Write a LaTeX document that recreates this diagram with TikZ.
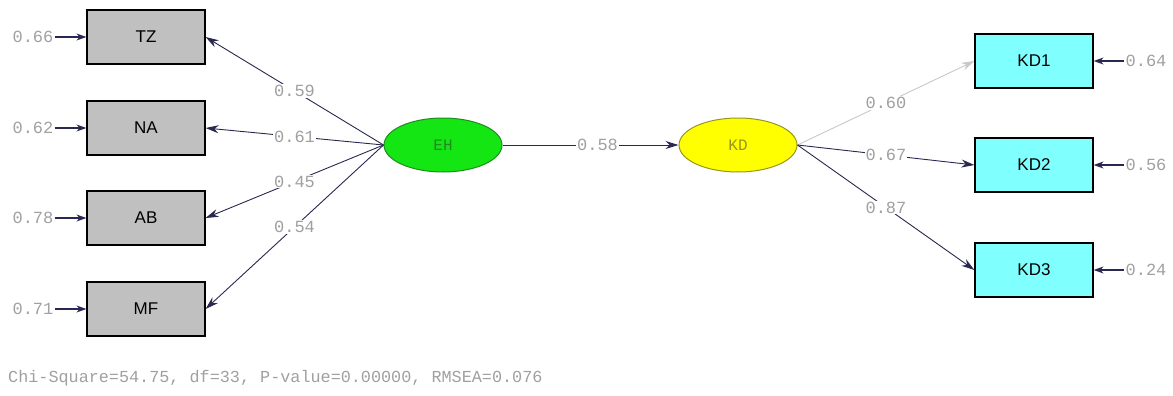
\documentclass[tikz,border=0pt]{standalone}
\usepackage{fontspec}
\setmainfont{Liberation Sans}
\newfontfamily\monof{Liberation Mono}
\usetikzlibrary{arrows.meta,shapes.geometric}
\definecolor{boxgrey}{RGB}{192,192,192}
\definecolor{boxcyan}{RGB}{128,255,255}
\definecolor{ehgreen}{RGB}{20,230,20}
\definecolor{ehborder}{RGB}{30,140,30}
\definecolor{kdyellow}{RGB}{255,255,0}
\definecolor{kdborder}{RGB}{150,150,30}
\definecolor{navy}{RGB}{40,40,80}
\definecolor{numgrey}{RGB}{160,160,160}
\definecolor{faint}{RGB}{200,200,200}
\tikzset{
  obsbox/.style={draw=black, line width=1.2pt, minimum width=118pt, minimum height=54pt, inner sep=0pt, font=\fontsize{17}{17}\selectfont},
  greybox/.style={obsbox, fill=boxgrey},
  cyanbox/.style={obsbox, fill=boxcyan},
  latent/.style={ellipse, line width=1pt, minimum width=118pt, minimum height=54pt, inner sep=0pt, font=\monof\fontsize{16}{16}\selectfont},
  num/.style={font=\monof\fontsize{17}{17}\selectfont, text=numgrey, inner sep=1pt},
  numlab/.style={num, fill=white, pos=0.5},
  path/.style={draw=navy, line width=0.9pt, -{Stealth[length=13pt,width=8pt]}},
  resid/.style={draw=navy, line width=1.4pt, -{Stealth[length=10pt,width=7pt]}}
}
\begin{document}
\begin{tikzpicture}[x=1pt,y=-1pt]
\useasboundingbox (0,0) rectangle (1173,396);
% observed boxes
\node[greybox] (tz) at (146,37) {TZ};
\node[greybox] (na) at (146,128) {NA};
\node[greybox] (ab) at (146,218) {AB};
\node[greybox] (mf) at (146,309) {MF};
\node[cyanbox] (kd1) at (1034,61) {KD1};
\node[cyanbox] (kd2) at (1034,165) {KD2};
\node[cyanbox] (kd3) at (1034,270) {KD3};
% latent
\node[latent, fill=ehgreen, draw=ehborder, text=ehborder] (eh) at (443,145) {EH};
\node[latent, fill=kdyellow, draw=kdborder, text=kdborder] (kd) at (738,145) {KD};
% residuals
\node[num] (rtz) at (33,37) {0.66};
\node[num] (rna) at (33,128) {0.62};
\node[num] (rab) at (33,218) {0.78};
\node[num] (rmf) at (33,309) {0.71};
\node[num] (rkd1) at (1146,61) {0.64};
\node[num] (rkd2) at (1146,165) {0.56};
\node[num] (rkd3) at (1146,270) {0.24};
\draw[resid] (rtz) -- (tz);
\draw[resid] (rna) -- (na);
\draw[resid] (rab) -- (ab);
\draw[resid] (rmf) -- (mf);
\draw[resid] (rkd1) -- (kd1);
\draw[resid] (rkd2) -- (kd2);
\draw[resid] (rkd3) -- (kd3);
% loadings
\draw[path] (eh.west) -- (tz.east) node[numlab] {0.59};
\draw[path] (eh.west) -- (na.east) node[numlab] {0.61};
\draw[path] (eh.west) -- (ab.east) node[numlab] {0.45};
\draw[path] (eh.west) -- (mf.east) node[numlab] {0.54};
\draw[path] (eh.east) -- (kd.west) node[numlab, pos=0.54] {0.58};
\draw[path, draw=faint] (kd.east) -- (kd1.west) node[numlab] {0.60};
\draw[path] (kd.east) -- (kd2.west) node[numlab] {0.67};
\draw[path] (kd.east) -- (kd3.west) node[numlab] {0.87};
% fit statistics
\node[font=\monof\fontsize{16.8}{17}\selectfont, text=numgrey, anchor=west, inner sep=0pt] (fit) at (8,378) {Chi-Square=54.75, df=33, P-value=0.00000, RMSEA=0.076};
\end{tikzpicture}
\end{document}
